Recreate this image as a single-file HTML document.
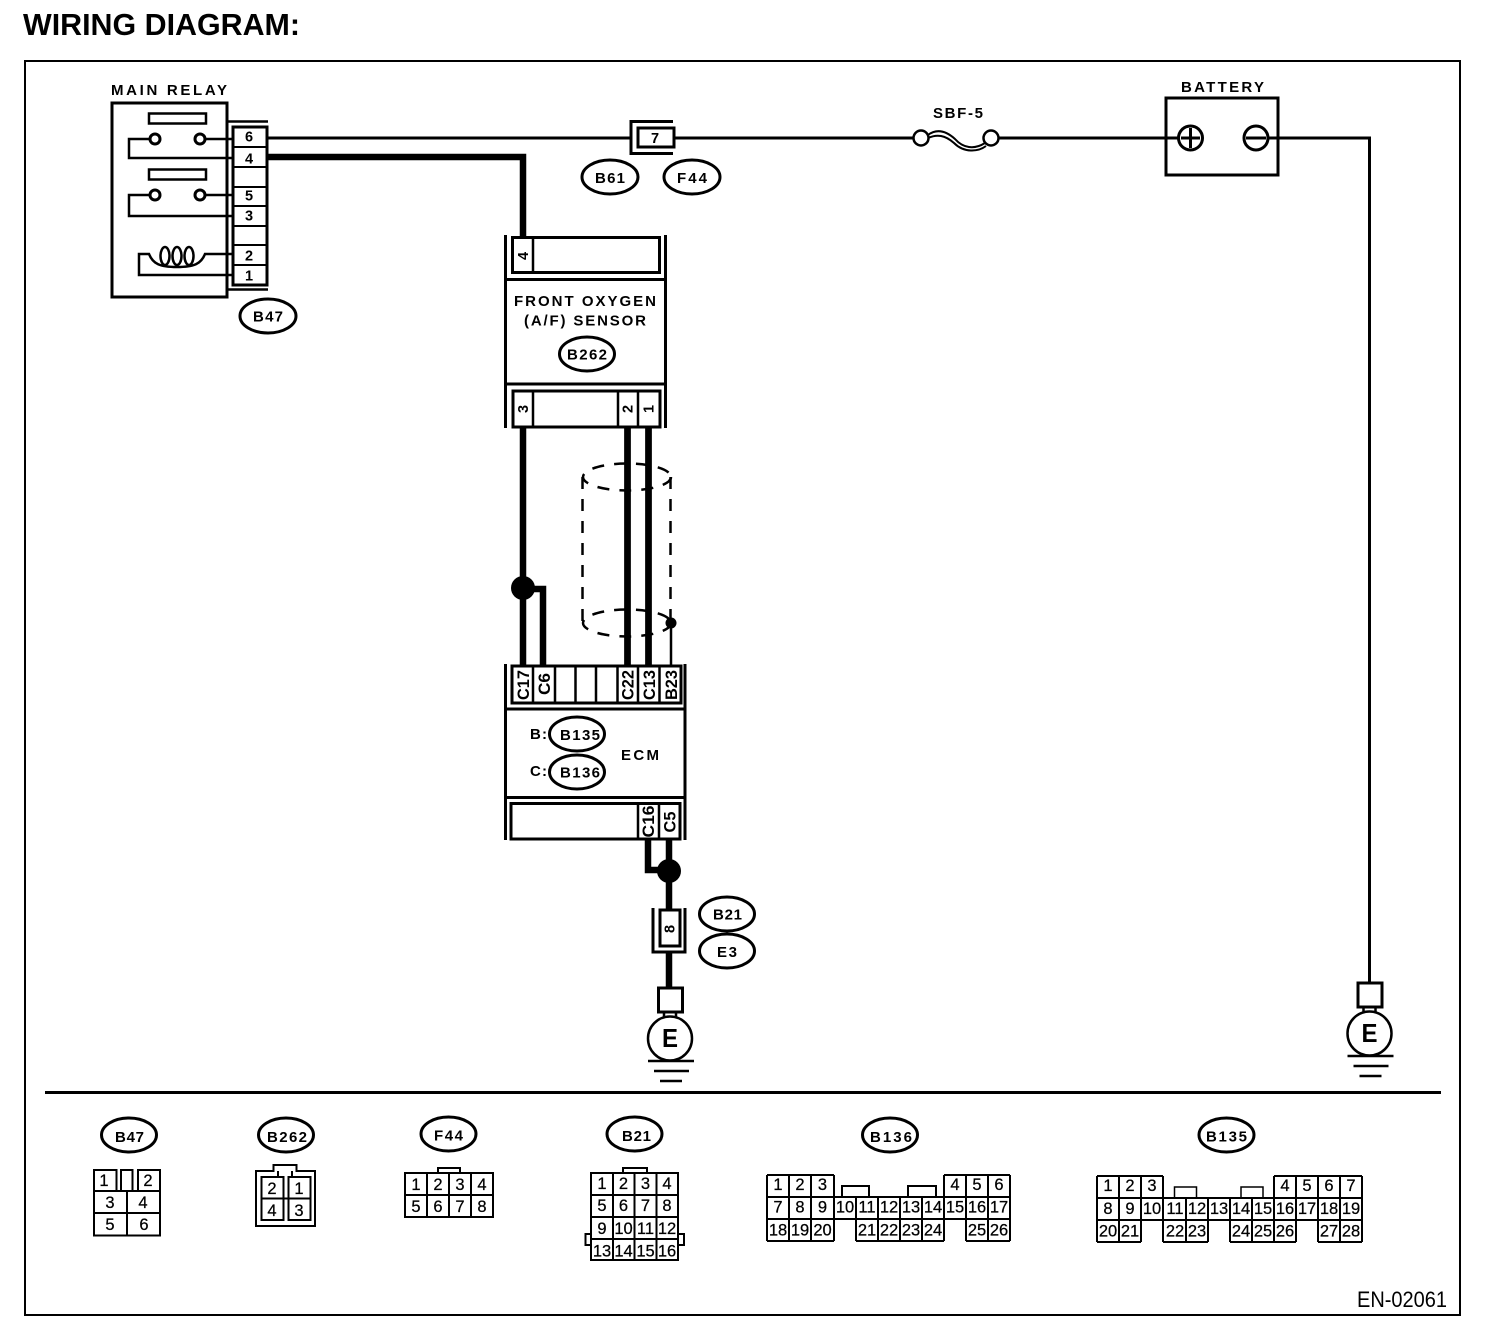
<!DOCTYPE html>
<html><head><meta charset="utf-8"><title>Wiring Diagram</title>
<style>
html,body{margin:0;padding:0;background:#fff;width:1504px;height:1336px;overflow:hidden}
svg{display:block}
text{font-family:"Liberation Sans",sans-serif;fill:#000}
.b{font-weight:bold;font-size:15px}
.n{font-size:16.5px;text-anchor:middle;stroke:#000;stroke-width:.25}
.m{font-weight:bold;font-size:14.5px;text-anchor:middle}
.r{font-weight:bold;font-size:17px;text-anchor:middle}
.e{fill:#fff;stroke:#000;stroke-width:3}
.s{fill:none;stroke:#000}
</style></head><body>
<svg xmlns="http://www.w3.org/2000/svg" width="1504" height="1336" viewBox="0 0 1504 1336">
<rect width="1504" height="1336" fill="#fff"/>
<text x="23" y="35" font-size="31" font-weight="bold" textLength="277" lengthAdjust="spacingAndGlyphs">WIRING DIAGRAM:</text>
<rect x="25" y="61" width="1435" height="1254" class="s" stroke-width="2"/>
<path d="M45 1092.5H1441" class="s" stroke-width="3"/>
<text x="1357" y="1307" font-size="22" textLength="90" lengthAdjust="spacingAndGlyphs">EN-02061</text>

<!-- Wires -->
<path d="M268 138H631M675 138H913M999 138H1178M1268 138H1369.5V982" class="s" stroke-width="3"/>
<path d="M268 157H523V237" class="s" stroke-width="6.5"/>
<path d="M523 428V665M627.5 428V665M648.5 428V665M523 589H543V665" class="s" stroke-width="6.5"/>
<path d="M648 840V870H669M669 840V909M669 952V987" class="s" stroke-width="6.5"/>

<!-- Main relay -->
<text x="111" y="95" class="b" textLength="116" lengthAdjust="spacing">MAIN RELAY</text>
<rect x="112" y="103" width="115" height="194" class="s" stroke-width="3"/>
<rect x="149" y="113.5" width="57" height="10" class="s" stroke-width="2.5"/>
<rect x="149" y="169.5" width="57" height="10" class="s" stroke-width="2.5"/>
<path d="M150 139H129V158H232M205 139H232M150 195H129V216H232M205 195H232" class="s" stroke-width="2.5"/>
<circle cx="155" cy="139" r="5" class="s" stroke-width="3"/>
<circle cx="200" cy="139" r="5" class="s" stroke-width="3"/>
<circle cx="155" cy="195" r="5" class="s" stroke-width="3"/>
<circle cx="200" cy="195" r="5" class="s" stroke-width="3"/>
<path d="M232 275H139V254H149C153 264 160 267 177 267C194 267 201 264 205 254H232" class="s" stroke-width="2.5"/>
<ellipse cx="165" cy="256" rx="4.5" ry="9" class="s" stroke-width="2.5"/>
<ellipse cx="177" cy="256" rx="4.5" ry="9" class="s" stroke-width="2.5"/>
<ellipse cx="189" cy="256" rx="4.5" ry="9" class="s" stroke-width="2.5"/>
<path d="M228 121.500H268M228 289.500H268" class="s" stroke-width="2.500"/>
<rect x="233" y="127" width="34" height="158" fill="#fff" stroke="#000" stroke-width="3"/>
<path d="M233 147H267M233 167H267M233 187H267M233 206H267M233 226H267M233 245H267M233 265H267" class="s" stroke-width="2"/>
<text x="249" y="141.500" class="m">6</text><text x="249" y="163.500" class="m">4</text><text x="249" y="200.500" class="m">5</text><text x="249" y="220.500" class="m">3</text><text x="249" y="260.500" class="m">2</text><text x="249" y="280.500" class="m">1</text>
<ellipse cx="268" cy="316" rx="28" ry="17" class="e"/>
<text x="253" y="321.500" class="b" textLength="30" lengthAdjust="spacing">B47</text>

<!-- Connector 7 -->
<path d="M673 121.500H631V153.500H673" class="s" stroke-width="3"/>
<rect x="638" y="128" width="36" height="19" fill="#fff" stroke="#000" stroke-width="3"/>
<text x="655" y="143" class="m">7</text>
<ellipse cx="610" cy="177" rx="28" ry="17" class="e"/>
<text x="595" y="183" class="b" textLength="30" lengthAdjust="spacing">B61</text>
<ellipse cx="692" cy="177" rx="28" ry="17" class="e"/>
<text x="677" y="183" class="b" textLength="30" lengthAdjust="spacing">F44</text>

<!-- Fuse -->
<text x="933" y="118" class="b" textLength="50" lengthAdjust="spacing">SBF-5</text>
<circle cx="921" cy="138" r="7.500" fill="#fff" stroke="#000" stroke-width="2.500"/>
<circle cx="991" cy="138" r="7.500" fill="#fff" stroke="#000" stroke-width="2.500"/>
<path d="M928 135C936 129 945 130 955 139C963 148 974 150 985 143" class="s" stroke-width="2"/>
<path d="M928 138C937 134 945 135 954 143C964 153 978 152 986 146" class="s" stroke-width="2"/>

<!-- Battery -->
<text x="1181" y="92" class="b" textLength="83" lengthAdjust="spacing">BATTERY</text>
<rect x="1166" y="98" width="112" height="77" class="s" stroke-width="3"/>
<circle cx="1190.500" cy="138" r="12" fill="#fff" stroke="#000" stroke-width="3"/>
<circle cx="1256" cy="138" r="12" fill="#fff" stroke="#000" stroke-width="3"/>
<path d="M1181 138H1200M1190.500 128V148M1246 138H1266" class="s" stroke-width="3"/>

<!-- Front oxygen sensor -->
<path d="M505.500 235V428M665.500 235V428M505 279.500H666M505 384H666" class="s" stroke-width="3"/>
<rect x="512.500" y="237.500" width="147" height="35" fill="#fff" stroke="#000" stroke-width="3"/>
<path d="M533 237V273" class="s" stroke-width="2.500"/>
<rect x="513" y="391" width="147" height="36" fill="#fff" stroke="#000" stroke-width="3"/>
<path d="M533 391V427M618 391V427M638 391V427" class="s" stroke-width="2.500"/>
<text transform="translate(528,256) rotate(-90)" class="m">4</text>
<text transform="translate(528,409) rotate(-90)" class="m">3</text>
<text transform="translate(632.500,409) rotate(-90)" class="m">2</text>
<text transform="translate(653.500,409) rotate(-90)" class="m">1</text>
<text x="514" y="306" class="b" textLength="142" lengthAdjust="spacing">FRONT OXYGEN</text>
<text x="524" y="325.500" class="b" textLength="122" lengthAdjust="spacing">(A/F) SENSOR</text>
<ellipse cx="587" cy="354" rx="27.500" ry="17" class="e"/>
<text x="567" y="359.500" class="b" textLength="40" lengthAdjust="spacing">B262</text>

<!-- Shield -->
<g class="s" stroke-width="2.500" stroke-dasharray="12 10">
<ellipse cx="627" cy="477" rx="44" ry="13.500"/>
<path d="M582.500 477V623M670.500 477V623"/>
<ellipse cx="627" cy="623" rx="44" ry="13.500"/>
</g>
<path d="M627.500 428V665M648.500 428V665" class="s" stroke-width="6.500"/>
<circle cx="671" cy="623" r="5.500" fill="#000"/>
<path d="M671 623V665" class="s" stroke-width="2.500"/>
<circle cx="523" cy="588" r="12" fill="#000"/>

<!-- ECM -->
<path d="M505.500 664V840M685 664V840M505 709H686M505 797.500H686" class="s" stroke-width="3"/>
<rect x="512" y="666" width="169" height="37" fill="#fff" stroke="#000" stroke-width="3"/>
<path d="M533 666V703M555 666V703M575.500 666V703M596 666V703M617.500 666V703M638 666V703M659.500 666V703" class="s" stroke-width="2.500"/>
<rect x="511" y="803.500" width="169" height="35.500" fill="#fff" stroke="#000" stroke-width="3"/>
<path d="M638 803V839M659 803V839" class="s" stroke-width="2.500"/>
<text transform="translate(529,685) rotate(-90)" class="r" textLength="30" lengthAdjust="spacingAndGlyphs">C17</text>
<text transform="translate(550,684) rotate(-90)" class="r" textLength="22" lengthAdjust="spacingAndGlyphs">C6</text>
<text transform="translate(633.500,685) rotate(-90)" class="r" textLength="30" lengthAdjust="spacingAndGlyphs">C22</text>
<text transform="translate(655,685) rotate(-90)" class="r" textLength="30" lengthAdjust="spacingAndGlyphs">C13</text>
<text transform="translate(677,685) rotate(-90)" class="r" textLength="30" lengthAdjust="spacingAndGlyphs">B23</text>
<text transform="translate(654,821.500) rotate(-90)" class="r" textLength="32" lengthAdjust="spacingAndGlyphs">C16</text>
<text transform="translate(675.500,822) rotate(-90)" class="r" textLength="21" lengthAdjust="spacingAndGlyphs">C5</text>
<text x="530" y="739" class="b" textLength="17" lengthAdjust="spacing">B:</text>
<text x="530" y="776" class="b" textLength="17" lengthAdjust="spacing">C:</text>
<ellipse cx="577" cy="734" rx="27.500" ry="17" class="e"/>
<ellipse cx="577" cy="772" rx="27.500" ry="17" class="e"/>
<text x="560" y="740" class="b" textLength="40" lengthAdjust="spacing">B135</text>
<text x="560" y="777.500" class="b" textLength="40" lengthAdjust="spacing">B136</text>
<text x="621" y="760" class="b" textLength="38" lengthAdjust="spacing">ECM</text>

<!-- Lower junction, connector 8 -->
<circle cx="669" cy="871" r="12" fill="#000"/>
<path d="M653 908V952H685V908" class="s" stroke-width="3"/>
<rect x="660" y="910" width="20" height="36" fill="#fff" stroke="#000" stroke-width="3"/>
<text transform="translate(674.500,929) rotate(-90)" class="m">8</text>
<ellipse cx="727" cy="914" rx="27.500" ry="17" class="e"/>
<text x="713" y="919.500" class="b" textLength="29" lengthAdjust="spacing">B21</text>
<ellipse cx="727" cy="951" rx="27.500" ry="17" class="e"/>
<text x="717" y="957" class="b" textLength="20" lengthAdjust="spacing">E3</text>

<!-- Ground 1 -->
<g>
<rect x="658.500" y="988" width="24" height="24" class="s" stroke-width="3"/>
<path d="M664 1012V1018M676 1012V1018" class="s" stroke-width="2.500"/>
<circle cx="670" cy="1038.500" r="22" fill="#fff" stroke="#000" stroke-width="2.500"/>
<text x="662" y="1047" font-size="26" font-weight="bold" textLength="16" lengthAdjust="spacingAndGlyphs">E</text>
<path d="M648 1061H694M654 1071H689M660 1081H682" class="s" stroke-width="2.500"/>
</g>
<!-- Ground 2 -->
<g transform="translate(699.500,-5)">
<rect x="658.500" y="988" width="24" height="24" class="s" stroke-width="3"/>
<path d="M664 1012V1018M676 1012V1018" class="s" stroke-width="2.500"/>
<circle cx="670" cy="1038.500" r="22" fill="#fff" stroke="#000" stroke-width="2.500"/>
<text x="662" y="1047" font-size="26" font-weight="bold" textLength="16" lengthAdjust="spacingAndGlyphs">E</text>
<path d="M648 1061H694M654 1071H689M660 1081H682" class="s" stroke-width="2.500"/>
</g>

<!-- B47 connector view -->
<ellipse cx="129" cy="1135" rx="27.500" ry="17" class="e"/>
<text x="115" y="1142" class="b" textLength="29" lengthAdjust="spacing">B47</text>
<path d="M94 1170H116.500V1191H94ZM121 1170H132.500V1191H121ZM138 1170H160V1191H138ZM94 1191H160V1235.500H94ZM94 1213H160M127 1191V1235.500" class="s" stroke-width="2"/>
<text x="104" y="1186" class="n">1</text><text x="148" y="1186" class="n">2</text><text x="110" y="1208" class="n">3</text><text x="143" y="1208" class="n">4</text><text x="110" y="1230" class="n">5</text><text x="144" y="1230" class="n">6</text>

<!-- B262 connector view -->
<ellipse cx="286" cy="1135" rx="27.500" ry="17" class="e"/>
<text x="267" y="1142" class="b" textLength="40" lengthAdjust="spacing">B262</text>
<path d="M256 1171H273.500V1165H296.500V1171H315V1226H256ZM278 1171V1177M292 1171V1177" class="s" stroke-width="2"/>
<rect x="261.500" y="1177" width="22" height="43" class="s" stroke-width="2"/>
<rect x="288.500" y="1177" width="22" height="43" class="s" stroke-width="2"/>
<path d="M261.500 1198.500H310.500" class="s" stroke-width="2"/>
<text x="272" y="1194" class="n">2</text><text x="299" y="1194" class="n">1</text><text x="272" y="1216" class="n">4</text><text x="299" y="1216" class="n">3</text>

<!-- F44 connector view -->
<ellipse cx="448.500" cy="1134" rx="27.500" ry="17" class="e"/>
<text x="434" y="1140.500" class="b" textLength="29" lengthAdjust="spacing">F44</text>
<path d="M405 1173H493V1217H405ZM405 1195H493M427 1173V1217M449 1173V1217M471 1173V1217M438 1173V1168H460V1173" class="s" stroke-width="2"/>
<text x="416" y="1190" class="n">1</text><text x="438" y="1190" class="n">2</text><text x="460" y="1190" class="n">3</text><text x="482" y="1190" class="n">4</text>
<text x="416" y="1212" class="n">5</text><text x="438" y="1212" class="n">6</text><text x="460" y="1212" class="n">7</text><text x="482" y="1212" class="n">8</text>

<!-- B21 connector view -->
<ellipse cx="634.500" cy="1134" rx="27.500" ry="17" class="e"/>
<text x="622" y="1141" class="b" textLength="29" lengthAdjust="spacing">B21</text>
<path d="M591 1173H678V1260H591ZM591 1195H678M591 1217H678M591 1239H678M613 1173V1260M634.500 1173V1260M656.500 1173V1260M623 1173V1168H647V1173M591 1234H585.500V1245H591M678 1234H684V1245H678" class="s" stroke-width="2"/>
<text x="602" y="1189" class="n">1</text><text x="623.500" y="1189" class="n">2</text><text x="645.500" y="1189" class="n">3</text><text x="667" y="1189" class="n">4</text>
<text x="602" y="1211" class="n">5</text><text x="623.500" y="1211" class="n">6</text><text x="645.500" y="1211" class="n">7</text><text x="667" y="1211" class="n">8</text>
<text x="602" y="1234" class="n">9</text><text x="623.500" y="1234" class="n">10</text><text x="645.500" y="1234" class="n">11</text><text x="667" y="1234" class="n">12</text>
<text x="602" y="1256.500" class="n">13</text><text x="623.500" y="1256.500" class="n">14</text><text x="645.500" y="1256.500" class="n">15</text><text x="667" y="1256.500" class="n">16</text>

<!-- B136 connector view -->
<ellipse cx="890" cy="1135" rx="27.500" ry="17" class="e"/>
<text x="870" y="1142" class="b" textLength="42" lengthAdjust="spacing">B136</text>
<path d="M767 1175H834M944 1175H1010M767 1197H1010M767 1219H1010M767 1241H834M856 1241H944M966 1241H1010M767 1175V1241M789 1175V1241M811 1175V1241M834 1175V1241M856 1197V1241M878 1197V1241M900 1197V1241M922 1197V1241M944 1175V1241M966 1175V1241M988 1175V1241M1010 1175V1241M842 1197V1186H869V1197M908 1197V1186H936V1197" class="s" stroke-width="2"/>
<text x="778" y="1190" class="n">1</text><text x="800" y="1190" class="n">2</text><text x="822.500" y="1190" class="n">3</text><text x="955" y="1190" class="n">4</text><text x="977" y="1190" class="n">5</text><text x="999" y="1190" class="n">6</text>
<text x="778" y="1212.500" class="n">7</text><text x="800" y="1212.500" class="n">8</text><text x="822.500" y="1212.500" class="n">9</text><text x="845" y="1212.500" class="n">10</text><text x="867" y="1212.500" class="n">11</text><text x="889" y="1212.500" class="n">12</text><text x="911" y="1212.500" class="n">13</text><text x="933" y="1212.500" class="n">14</text><text x="955" y="1212.500" class="n">15</text><text x="977" y="1212.500" class="n">16</text><text x="999" y="1212.500" class="n">17</text>
<text x="778" y="1235.500" class="n">18</text><text x="800" y="1235.500" class="n">19</text><text x="822.500" y="1235.500" class="n">20</text><text x="867" y="1235.500" class="n">21</text><text x="889" y="1235.500" class="n">22</text><text x="911" y="1235.500" class="n">23</text><text x="933" y="1235.500" class="n">24</text><text x="977" y="1235.500" class="n">25</text><text x="999" y="1235.500" class="n">26</text>

<!-- B135 connector view -->
<ellipse cx="1226.500" cy="1135" rx="27.500" ry="17" class="e"/>
<text x="1206" y="1141.500" class="b" textLength="41" lengthAdjust="spacing">B135</text>
<path d="M1097 1176H1163M1274 1176H1362M1097 1198H1362M1097 1220H1362M1097 1242H1141M1163 1242H1208M1230 1242H1296M1318 1242H1362M1097 1176V1242M1119 1176V1242M1141 1176V1242M1163 1176V1242M1186 1198V1242M1208 1198V1242M1230 1198V1242M1252 1198V1242M1274 1176V1242M1296 1176V1242M1318 1176V1242M1340 1176V1242M1362 1176V1242" class="s" stroke-width="2"/>
<path d="M1174.500 1198V1187H1196.500V1198M1241 1198V1187H1263V1198" class="s" stroke-width="1.500"/>
<text x="1108" y="1191" class="n">1</text><text x="1130" y="1191" class="n">2</text><text x="1152" y="1191" class="n">3</text><text x="1285" y="1191" class="n">4</text><text x="1307" y="1191" class="n">5</text><text x="1329" y="1191" class="n">6</text><text x="1351" y="1191" class="n">7</text>
<text x="1108" y="1214" class="n">8</text><text x="1130" y="1214" class="n">9</text><text x="1152" y="1214" class="n">10</text><text x="1175" y="1214" class="n">11</text><text x="1197" y="1214" class="n">12</text><text x="1219" y="1214" class="n">13</text><text x="1241" y="1214" class="n">14</text><text x="1263" y="1214" class="n">15</text><text x="1285" y="1214" class="n">16</text><text x="1307" y="1214" class="n">17</text><text x="1329" y="1214" class="n">18</text><text x="1351" y="1214" class="n">19</text>
<text x="1108" y="1236.500" class="n">20</text><text x="1130" y="1236.500" class="n">21</text><text x="1175" y="1236.500" class="n">22</text><text x="1197" y="1236.500" class="n">23</text><text x="1241" y="1236.500" class="n">24</text><text x="1263" y="1236.500" class="n">25</text><text x="1285" y="1236.500" class="n">26</text><text x="1329" y="1236.500" class="n">27</text><text x="1351" y="1236.500" class="n">28</text>
</svg>
</body></html>
